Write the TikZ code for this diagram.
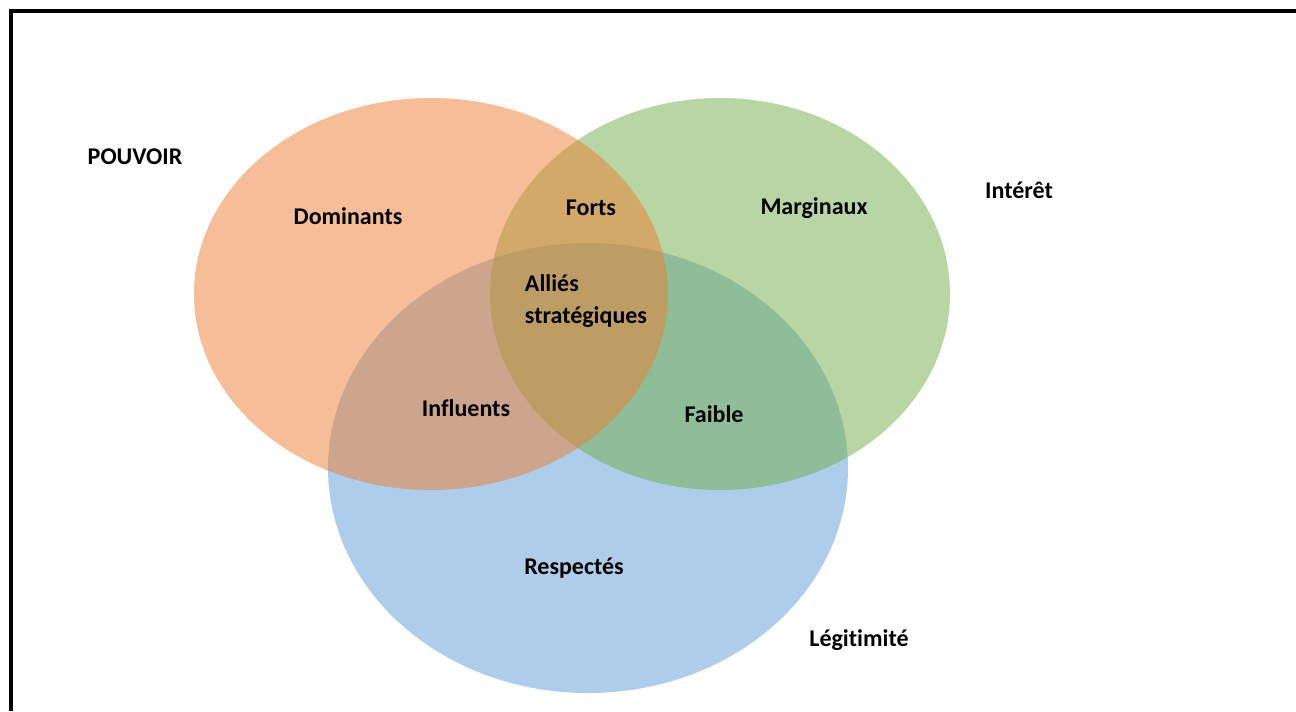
\documentclass[tikz,border=0pt]{standalone}
\usepackage{fontspec}
\setmainfont{Carlito}[Ligatures=NoCommon]
\definecolor{pouvoir}{HTML}{ED7D31}
\definecolor{interet}{HTML}{70AD47}
\definecolor{legitimite}{HTML}{5B9BD5}

\begin{document}
\begin{tikzpicture}[x=0.75pt, y=-0.75pt,
    zone/.style={fill opacity=0.5},
    lbl/.style={font=\bfseries\fontsize{18}{24}\selectfont, inner sep=0pt}]
    \useasboundingbox (0,0) rectangle (1296,711);

    % Frame
    \draw[line width=2.3pt] (11,711) -- (11,11) -- (1296,11);

    % --- Sets (blue under green under orange) ---
    \fill[legitimite, zone] (588,468) ellipse [x radius=260, y radius=225];
    \fill[interet, zone] (720,294) ellipse [x radius=230, y radius=196];
    \fill[pouvoir, zone] (431,294) ellipse [x radius=237, y radius=196];

    % Set names
    \node[lbl] (pouvoir) at (135,157) {POUVOIR};
    \node[lbl] (interet) at (1019,190) {Intérêt};
    \node[lbl] (legitimite) at (859,640) {Légitimité};

    % Regions
    \node[lbl] (dominants) at (348,216) {Dominants};
    \node[lbl] (forts) at (591,208) {Forts};
    \node[lbl] (marginaux) at (814,208) {Marginaux};
    \node[lbl, align=left] (allies) at (586,301) {Alliés\\stratégiques};
    \node[lbl] (influents) at (466,408) {Influents};
    \node[lbl] (faible) at (714,414) {Faible};
    \node[lbl] (respectes) at (574,568) {Respectés};
\end{tikzpicture}
\end{document}
